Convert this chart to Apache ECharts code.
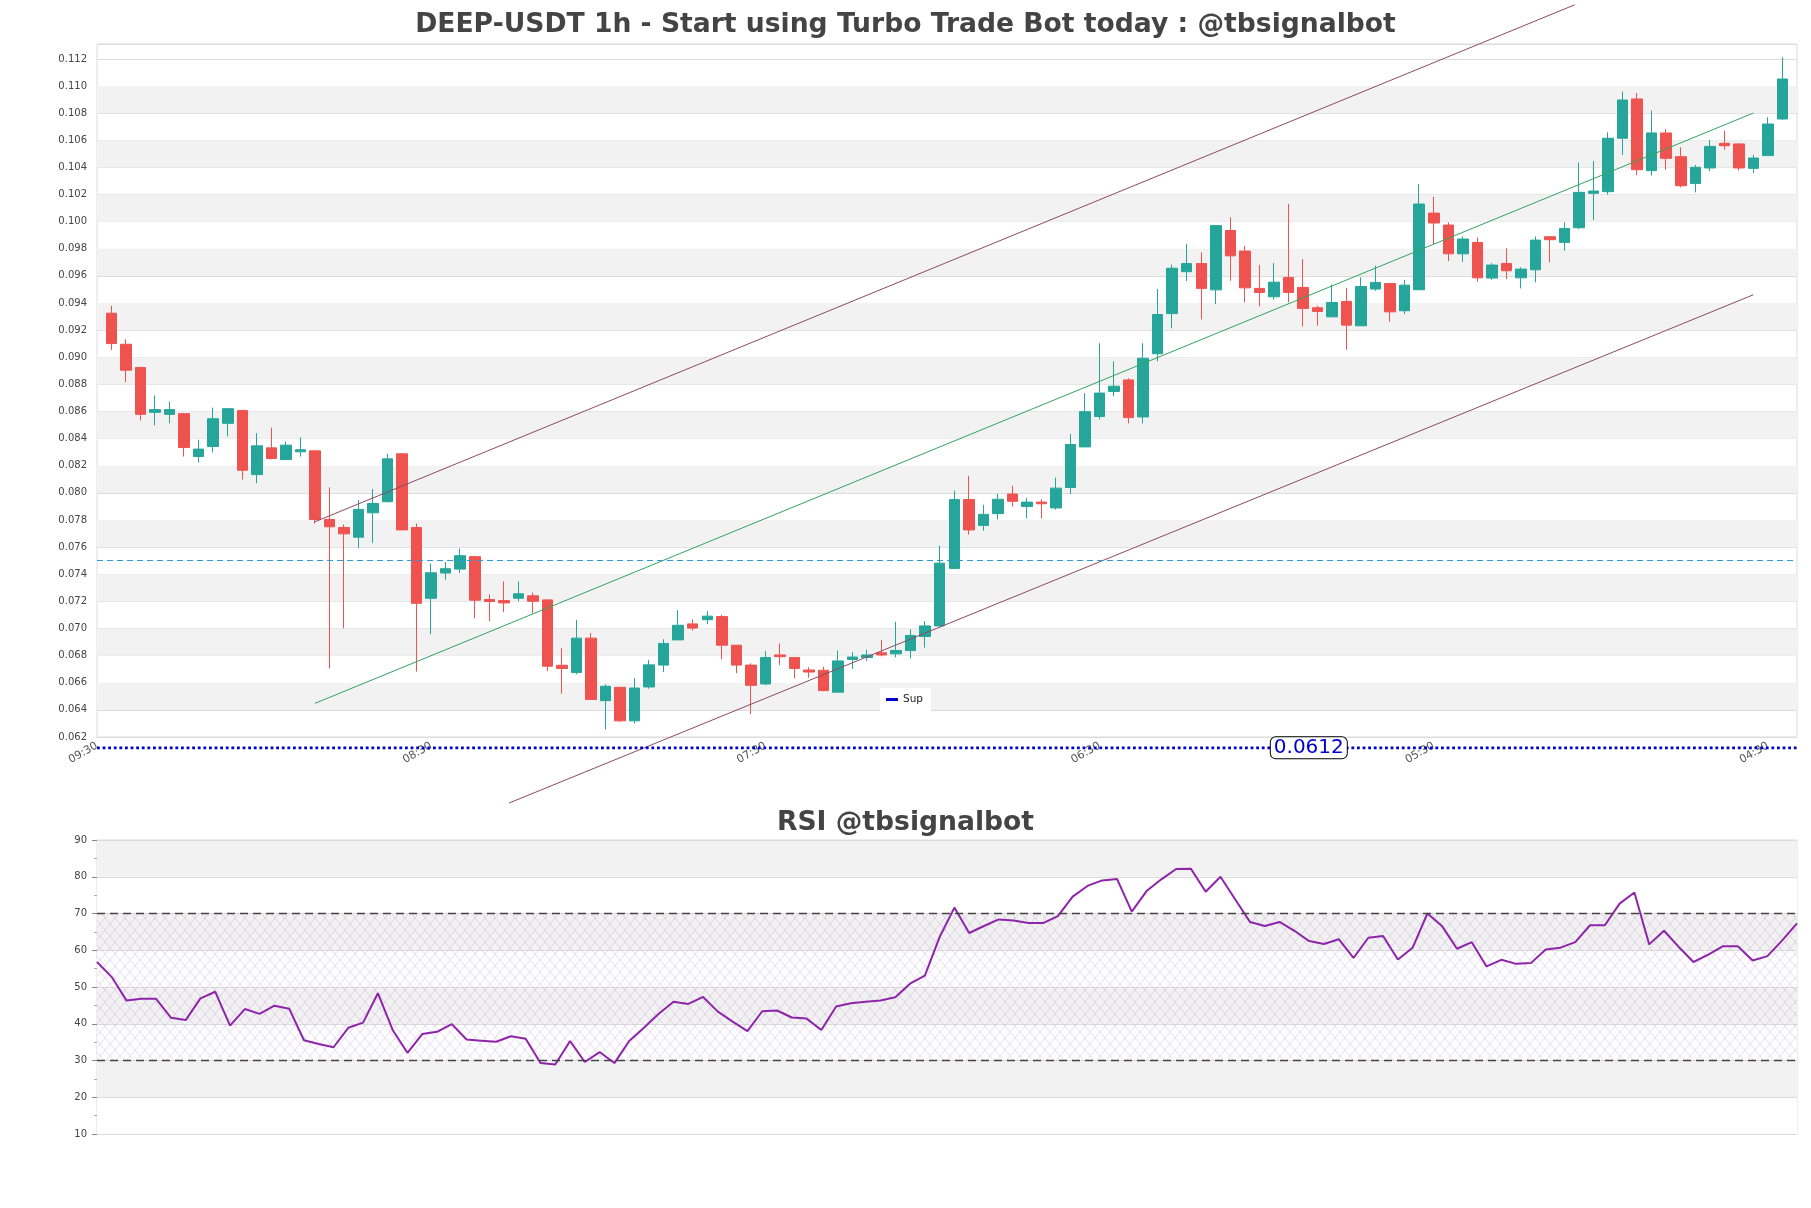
<!DOCTYPE html>
<html><head><meta charset="utf-8">
<script src="https://cdn.jsdelivr.net/npm/echarts/dist/echarts.min.js"></script>
<style>html,body{margin:0;padding:0;background:#fff}#c{width:1811px;height:1208px}</style>
</head><body><div id="c"></div>
<script>
// ---------- data ----------
const startHour = 9;
const categories = [];
for (let i = 0; i < 118; i++) { const h = (startHour + i) % 24; categories.push((h < 10 ? '0' : '') + h + ':30'); }

const opens = [0.09325,0.09096,0.08925,0.08594,0.08579,0.08584,0.08268,0.08342,0.08513,0.08607,
0.08135,0.08332,0.08246,0.08303,0.08310,0.07804,0.07745,0.07673,0.07853,0.07935,
0.08288,0.07745,0.07223,0.07409,0.07438,0.07530,0.07214,0.07206,0.07223,0.07241,
0.07211,0.06729,0.06675,0.06929,0.06468,0.06566,0.06319,0.06569,0.06730,0.06916,
0.07034,0.07065,0.07088,0.06877,0.06730,0.06591,0.06805,0.06787,0.06694,0.06692,
0.06530,0.06772,0.06787,0.06821,0.06813,0.06838,0.06941,0.07019,0.07443,0.07951,
0.07760,0.07847,0.07992,0.07899,0.07932,0.07889,0.08040,0.08339,0.08563,0.08748,
0.08833,0.08560,0.09026,0.09322,0.09631,0.09691,0.09497,0.09935,0.09783,0.09508,
0.09446,0.09589,0.09515,0.09365,0.09298,0.09412,0.09232,0.09503,0.09544,0.09343,
0.09498,0.10063,0.09975,0.09763,0.09847,0.09584,0.09692,0.09586,0.09645,0.09889,
0.09847,0.09955,0.10209,0.10221,0.10615,0.10905,0.10376,0.10654,0.10479,0.10282,
0.10396,0.10578,0.10573,0.10393,0.10487,0.10757];
const closes = [0.09101,0.08905,0.08579,0.08614,0.08614,0.08335,0.08323,0.08547,0.08621,0.08167,
0.08347,0.08253,0.08352,0.08318,0.07804,0.07750,0.07698,0.07878,0.07922,0.08251,
0.07727,0.07186,0.07411,0.07441,0.07537,0.07209,0.07199,0.07189,0.07256,0.07201,
0.06722,0.06705,0.06929,0.06477,0.06574,0.06319,0.06561,0.06732,0.06890,0.07024,
0.07003,0.07091,0.06877,0.06730,0.06581,0.06787,0.06792,0.06705,0.06679,0.06542,
0.06761,0.06790,0.06805,0.06805,0.06838,0.06949,0.07019,0.07482,0.07951,0.07727,
0.07842,0.07953,0.07938,0.07932,0.07920,0.08035,0.08357,0.08599,0.08736,0.08787,
0.08555,0.08993,0.09315,0.09657,0.09691,0.09508,0.09971,0.09748,0.09512,0.09478,
0.09554,0.09478,0.09360,0.09338,0.09404,0.09237,0.09522,0.09552,0.09335,0.09532,
0.10130,0.09990,0.09763,0.09872,0.09586,0.09680,0.09638,0.09650,0.09864,0.09867,
0.09950,0.10216,0.10226,0.10615,0.10897,0.10383,0.10654,0.10467,0.10265,0.10401,
0.10555,0.10560,0.10396,0.10469,0.10720,0.11052];
const lows = [0.09054,0.08817,0.08535,0.08498,0.08513,0.08268,0.08224,0.08298,0.08416,0.08098,
0.08071,0.08248,0.08246,0.08268,0.07774,0.06705,0.07001,0.07594,0.07631,0.07930,
0.07727,0.06682,0.06959,0.07359,0.07409,0.07075,0.07053,0.07120,0.07201,0.07112,
0.06687,0.06519,0.06663,0.06477,0.06255,0.06312,0.06300,0.06556,0.06679,0.06916,
0.06985,0.07032,0.06774,0.06671,0.06370,0.06581,0.06730,0.06633,0.06638,0.06537,
0.06530,0.06702,0.06761,0.06795,0.06787,0.06779,0.06859,0.07010,0.07443,0.07693,
0.07721,0.07804,0.07899,0.07811,0.07811,0.07876,0.07992,0.08339,0.08542,0.08712,
0.08512,0.08512,0.08970,0.09214,0.09562,0.09279,0.09392,0.09564,0.09404,0.09375,
0.09424,0.09404,0.09227,0.09232,0.09298,0.09055,0.09232,0.09490,0.09262,0.09318,
0.09498,0.09835,0.09709,0.09704,0.09557,0.09571,0.09576,0.09508,0.09552,0.09699,
0.09786,0.09945,0.10012,0.10199,0.10492,0.10344,0.10339,0.10383,0.10253,0.10216,
0.10371,0.10531,0.10376,0.10359,0.10487,0.10752];
const highs = [0.09380,0.09133,0.08930,0.08718,0.08673,0.08590,0.08392,0.08629,0.08625,0.08614,
0.08441,0.08481,0.08379,0.08409,0.08310,0.08041,0.07767,0.07947,0.08029,0.08288,
0.08292,0.07774,0.07478,0.07490,0.07589,0.07537,0.07251,0.07347,0.07347,0.07265,
0.07215,0.06855,0.07063,0.06967,0.06589,0.06566,0.06633,0.06769,0.06921,0.07135,
0.07068,0.07127,0.07101,0.06877,0.06743,0.06833,0.06890,0.06790,0.06715,0.06718,
0.06838,0.06826,0.06844,0.06916,0.07050,0.06993,0.07055,0.07611,0.08017,0.08125,
0.07912,0.07992,0.08053,0.07963,0.07953,0.08113,0.08434,0.08736,0.09104,0.08970,
0.08846,0.09104,0.09503,0.09683,0.09837,0.09773,0.09975,0.10032,0.09822,0.09680,
0.09695,0.10130,0.09724,0.09380,0.09537,0.09510,0.09589,0.09675,0.09544,0.09571,
0.10278,0.10184,0.09995,0.09891,0.09884,0.09695,0.09803,0.09663,0.09891,0.09891,
0.09995,0.10437,0.10447,0.10659,0.10959,0.10949,0.10819,0.10683,0.10548,0.10418,
0.10602,0.10671,0.10578,0.10492,0.10770,0.11212];

const rsiValues = [56.8,52.7,46.3,46.8,46.8,41.65,41.0,46.9,48.7,39.5,
44.0,42.7,44.9,44.1,35.5,34.5,33.6,38.9,40.3,48.3,
38.3,32.1,37.2,37.8,39.9,35.7,35.4,35.1,36.6,35.9,
29.3,28.9,35.3,29.6,32.3,29.3,35.3,38.9,42.7,46.0,
45.4,47.3,43.3,40.6,38.0,43.4,43.6,41.7,41.4,38.3,
44.7,45.6,46.0,46.3,47.2,50.9,53.1,63.6,71.6,64.7,
66.6,68.4,68.1,67.4,67.4,69.3,74.6,77.5,79.0,79.4,
70.5,76.1,79.3,82.1,82.2,75.9,80.0,73.8,67.7,66.6,
67.7,65.3,62.5,61.7,63.0,57.9,63.4,63.9,57.5,60.7,
70.0,66.5,60.4,62.2,55.6,57.4,56.3,56.5,60.2,60.7,
62.2,66.8,66.8,72.7,75.7,61.6,65.3,60.9,56.8,58.8,
61.1,61.1,57.2,58.4,62.7,67.3];

// channel lines: [position on the hourly axis, price]
const upperLine = [[15, 0.07787], [101.7, 0.11599]];
const middleLine = [[15, 0.06448], [114, 0.10801]];
const lowerLine = [[28.36, 0.05713], [114, 0.09461]];

const refLevel = 0.075;
const supLevel = 0.0612;
const supLabelAt = 83.4;
const priceMin = 0.062, priceMax = 0.1131, priceStep = 0.002, priceTop = 0.112;
const rsiMin = 10, rsiMax = 90, rsiStep = 10;
const rsiBands = [30, 70];

// ---------- build ----------
const candleData = opens.map((o, i) => [i + 1, o, closes[i], lows[i], highs[i]]);
const rsiCats = categories.slice(1, 1 + rsiValues.length);
const supData = [[0, supLevel], {value: [supLabelAt, supLevel], label: {show: true}}, [categories.length - 1, supLevel]];
// alternating shaded bands between price ticks (odd intervals)
const priceBands = [];
const nSteps = Math.round((priceTop - priceMin) / priceStep);
for (let k = 1; k < nSteps; k += 2) {
  const a = +(priceMin + k * priceStep).toFixed(4), b = +(priceMin + (k + 1) * priceStep).toFixed(4);
  priceBands.push([{yAxis: a}, {yAxis: b}]);
}

const pc = document.createElement('canvas');
pc.width = 10; pc.height = 12;
const cx = pc.getContext('2d');
cx.strokeStyle = 'rgba(165,125,190,0.33)';
cx.lineWidth = 0.8;
cx.beginPath(); cx.moveTo(0, 0); cx.lineTo(10, 12); cx.moveTo(10, 0); cx.lineTo(0, 12); cx.stroke();

const FONT = 'DejaVu Sans';
const titleStyle = {fontFamily: FONT, fontSize: 26.6, fontWeight: 'bold', color: '#444'};
const chart = echarts.init(document.getElementById('c'), null, {renderer: 'canvas'});
chart.setOption({
  animation: false,
  backgroundColor: '#fff',
  textStyle: {fontFamily: FONT},
  title: [
    {text: 'DEEP-USDT 1h - Start using Turbo Trade Bot today : @tbsignalbot', left: 'center', top: 12, padding: 0, textStyle: titleStyle},
    {text: 'RSI @tbsignalbot', left: 'center', top: 810, padding: 0, textStyle: titleStyle}
  ],
  legend: {data: ['Sup'], left: 880, top: 688, backgroundColor: '#fff', padding: [6, 8, 6, 6], icon: 'rect', itemWidth: 12, itemHeight: 3,
    textStyle: {fontSize: 10.5, color: '#222', fontFamily: FONT}},
  grid: [
    {left: 97, right: 14, top: 44, height: 693, show: true, borderColor: '#ddd', borderWidth: 1},
    {left: 97, right: 14, top: 840, height: 294, show: true, borderColor: '#ddd', borderWidth: 1}
  ],
  xAxis: [
    {gridIndex: 0, type: 'category', data: categories, boundaryGap: false,
      axisLine: {show: false}, axisTick: {show: false}, splitLine: {show: false},
      axisLabel: {interval: 22, rotate: 30, fontSize: 11, color: '#555', margin: 8, fontFamily: FONT}},
    {gridIndex: 0, type: 'value', min: 0, max: categories.length - 1, show: false},
    {gridIndex: 1, type: 'category', data: rsiCats, boundaryGap: false, show: false}
  ],
  yAxis: [
    {gridIndex: 0, type: 'value', min: priceMin, max: priceMax, interval: priceStep,
      axisLine: {show: false}, axisTick: {show: false},
      axisLabel: {formatter: v => v.toFixed(3), fontSize: 10, color: '#444', margin: 10, showMaxLabel: false, fontFamily: FONT},
      splitLine: {lineStyle: {color: '#dcdcdc'}},
      splitArea: {show: false}},
    {gridIndex: 1, type: 'value', min: rsiMin, max: rsiMax, interval: rsiStep,
      axisLine: {show: false},
      axisTick: {show: true, length: 5, lineStyle: {color: '#888'}},
      minorTick: {show: true, splitNumber: 2, length: 3, lineStyle: {color: '#aaa'}},
      minorSplitLine: {show: false},
      axisLabel: {fontSize: 10, color: '#444', margin: 10, fontFamily: FONT},
      splitLine: {lineStyle: {color: '#dcdcdc'}},
      splitArea: {show: true, areaStyle: {color: ['#ffffff', '#f2f2f2']}}}
  ],
  series: [
    {type: 'line', xAxisIndex: 1, yAxisIndex: 0, data: [], z: 0, silent: true,
      markArea: {silent: true, itemStyle: {color: '#f2f2f2'}, data: priceBands}},
    {type: 'candlestick', xAxisIndex: 1, yAxisIndex: 0, data: candleData, barWidth: 11,
      itemStyle: {color: '#26a69a', color0: '#ef5350', borderColor: '#26a69a', borderColor0: '#ef5350', borderWidth: 1}},
    {type: 'line', xAxisIndex: 1, yAxisIndex: 0, data: upperLine, showSymbol: false, clip: false, silent: true,
      lineStyle: {color: '#8c4a63', width: 1}, itemStyle: {color: '#8c4a63'}},
    {type: 'line', xAxisIndex: 1, yAxisIndex: 0, data: middleLine, showSymbol: false, clip: false, silent: true,
      lineStyle: {color: '#33a35f', width: 1}, itemStyle: {color: '#33a35f'},
      markLine: {silent: true, symbol: 'none', precision: 5, label: {show: false},
        lineStyle: {color: '#2b9ad6', type: [6, 4], width: 1.2},
        data: [{yAxis: refLevel}]}},
    {type: 'line', xAxisIndex: 1, yAxisIndex: 0, data: lowerLine, showSymbol: false, clip: false, silent: true,
      lineStyle: {color: '#8c4a63', width: 1}, itemStyle: {color: '#8c4a63'}},
    {name: 'Sup', type: 'line', xAxisIndex: 1, yAxisIndex: 0, data: supData, clip: false, silent: true,
      showSymbol: true, symbol: 'circle', symbolSize: 0,
      lineStyle: {color: '#0000cd', width: 2.8, type: 'dotted'}, itemStyle: {color: '#0000cd'},
      label: {show: false, position: 'inside', formatter: () => String(supLevel), color: '#0000cd', fontSize: 20, fontFamily: FONT,
        backgroundColor: '#fff', borderColor: '#000', borderWidth: 1, borderRadius: 5, padding: [1, 3, 0, 3]}},
    {name: 'RSI', type: 'line', xAxisIndex: 2, yAxisIndex: 1, data: rsiValues, showSymbol: false,
      lineStyle: {color: '#8e24aa', width: 2}, itemStyle: {color: '#8e24aa'},
      markLine: {silent: true, symbol: 'none', label: {show: false},
        lineStyle: {color: '#444', type: [8, 5], width: 1.3},
        data: rsiBands.map(v => ({yAxis: v}))},
      markArea: {silent: true, itemStyle: {color: {image: pc, repeat: 'repeat'}},
        data: [[{yAxis: rsiBands[0]}, {yAxis: rsiBands[1]}]]}}
  ]
});
</script>
</body></html>
